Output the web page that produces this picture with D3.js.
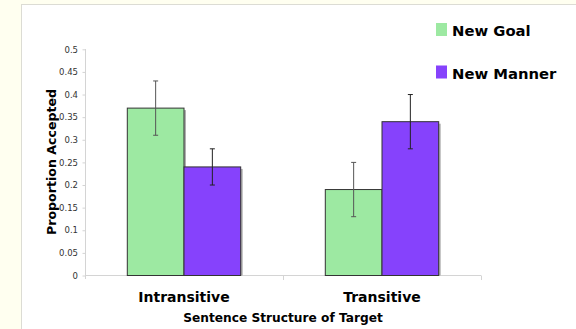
<!DOCTYPE html>
<html><head><meta charset="utf-8">
<script src="https://cdn.jsdelivr.net/npm/d3@7"></script>
<style>
html,body{margin:0;padding:0;background:#fffff0;}
svg{display:block;}
</style></head>
<body>
<svg id="c" width="576" height="329"></svg>
<script>
const categories = ["Intransitive", "Transitive"];
const seriesNames = ["New Goal", "New Manner"];
const newGoal = [0.37, 0.19];
const newManner = [0.24, 0.34];
const newGoalLow = [0.31, 0.13];
const newGoalHigh = [0.43, 0.25];
const newMannerLow = [0.20, 0.28];
const newMannerHigh = [0.28, 0.40];
const yTicks = [0, 0.05, 0.1, 0.15, 0.2, 0.25, 0.3, 0.35, 0.4, 0.45, 0.5];
const colors = ["#9de9a2", "#8642fc"];

const svg = d3.select("#c");
// panel
svg.append("rect").attr("x", 0).attr("y", 0).attr("width", 576).attr("height", 329).attr("fill", "#fffff0");
svg.append("rect").attr("x", 21.5).attr("y", 4.5).attr("width", 560).attr("height", 330)
  .attr("fill", "#fff").attr("stroke", "#dcdcd4").attr("stroke-width", 1);

const x0 = d3.scaleBand().domain(categories).range([85, 481]).paddingInner(0).paddingOuter(0);
const x1 = d3.scaleBand().domain(seriesNames).range([0, x0.bandwidth()]).paddingInner(0).paddingOuter(0.746);
const y = d3.scaleLinear().domain([0, 0.5]).range([275.5, 49.3]);

const fontB = "'DejaVu Sans', Verdana, sans-serif";

// y axis
const yAxis = d3.axisLeft(y).tickValues(yTicks).tickSize(3).tickPadding(4)
  .tickFormat(d => d3.format("")(+d.toFixed(2)));
const gy = svg.append("g").attr("transform", "translate(85,0)").call(yAxis);
gy.select(".domain").remove();
gy.append("line").attr("x1", 0.5).attr("x2", 0.5).attr("y1", 49).attr("y2", 279).attr("stroke", "#d4d4d4");
gy.selectAll(".tick line").attr("stroke", "#d4d4d4").attr("transform", "translate(0.5,0)");
gy.selectAll(".tick text").attr("fill", "#333").style("font-family", fontB).style("font-size", "8.5px");

// x axis
svg.append("line").attr("x1", 85).attr("x2", 481).attr("y1", 275.5).attr("y2", 275.5).attr("stroke", "#d4d4d4");
categories.forEach(c => {
  const xr = x0(c) + x0.bandwidth();
  svg.append("line").attr("x1", xr + 0.5).attr("x2", xr + 0.5).attr("y1", 275.5).attr("y2", 280).attr("stroke", "#d4d4d4");
});

const rows = categories.map((c, i) => ({
  c, vals: [
    {s: seriesNames[0], v: newGoal[i], lo: newGoalLow[i], hi: newGoalHigh[i], col: colors[0], ec: "#555"},
    {s: seriesNames[1], v: newManner[i], lo: newMannerLow[i], hi: newMannerHigh[i], col: colors[1], ec: "#222"}
  ]
}));

const g = svg.selectAll("g.grp").data(rows).join("g").attr("class", "grp")
  .attr("transform", d => `translate(${x0(d.c)},0)`);
// shadows
g.selectAll("rect.sh").data(d => d.vals).join("rect").attr("class", "sh")
  .attr("x", d => x1(d.s) + 2).attr("y", d => y(d.v) + 2)
  .attr("width", x1.bandwidth()).attr("height", d => y(0) - y(d.v) - 2)
  .attr("fill", "#b0b0b0");
g.selectAll("rect.bar").data(d => d.vals).join("rect").attr("class", "bar")
  .attr("x", d => x1(d.s)).attr("y", d => y(d.v))
  .attr("width", x1.bandwidth()).attr("height", d => y(0) - y(d.v))
  .attr("fill", d => d.col).attr("stroke", "#333").attr("stroke-width", 1);
// error bars
const eb = g.selectAll("g.eb").data(d => d.vals).join("g").attr("class", "eb")
  .attr("stroke", d => d.ec).attr("stroke-width", 1);
eb.append("line").attr("x1", d => x1(d.s) + x1.bandwidth() / 2).attr("x2", d => x1(d.s) + x1.bandwidth() / 2)
  .attr("y1", d => y(d.hi)).attr("y2", d => y(d.lo));
eb.append("line").attr("x1", d => x1(d.s) + x1.bandwidth() / 2 - 2.5).attr("x2", d => x1(d.s) + x1.bandwidth() / 2 + 2.5)
  .attr("y1", d => y(d.hi)).attr("y2", d => y(d.hi));
eb.append("line").attr("x1", d => x1(d.s) + x1.bandwidth() / 2 - 2.5).attr("x2", d => x1(d.s) + x1.bandwidth() / 2 + 2.5)
  .attr("y1", d => y(d.lo)).attr("y2", d => y(d.lo));

// category labels
svg.selectAll("text.cat").data(categories).join("text").attr("class", "cat")
  .attr("x", d => x0(d) + x0.bandwidth() / 2).attr("y", 301.7)
  .attr("text-anchor", "middle").style("font-family", fontB).style("font-weight", "bold")
  .style("font-size", "14px").attr("fill", "#000").text(d => d);

svg.append("text").attr("x", 283).attr("y", 321.7).attr("text-anchor", "middle")
  .style("font-family", fontB).style("font-weight", "bold").style("font-size", "12.2px")
  .attr("fill", "#000").text("Sentence Structure of Target");

svg.append("text").attr("transform", "translate(56,162) rotate(-90)").attr("text-anchor", "middle")
  .style("font-family", fontB).style("font-weight", "bold").style("font-size", "12.6px")
  .attr("fill", "#000").text("Proportion Accepted");

// legend
const leg = svg.selectAll("g.leg").data(seriesNames).join("g").attr("class", "leg")
  .attr("transform", (d, i) => `translate(436,${23 + i * 42.5})`);
leg.append("rect").attr("width", 11).attr("height", 13).attr("fill", (d, i) => colors[i]);
leg.append("text").attr("x", 16).attr("y", 13).style("font-family", fontB).style("font-weight", "bold")
  .style("font-size", "14.8px").attr("fill", "#000").text(d => d);
</script>
</body></html>
